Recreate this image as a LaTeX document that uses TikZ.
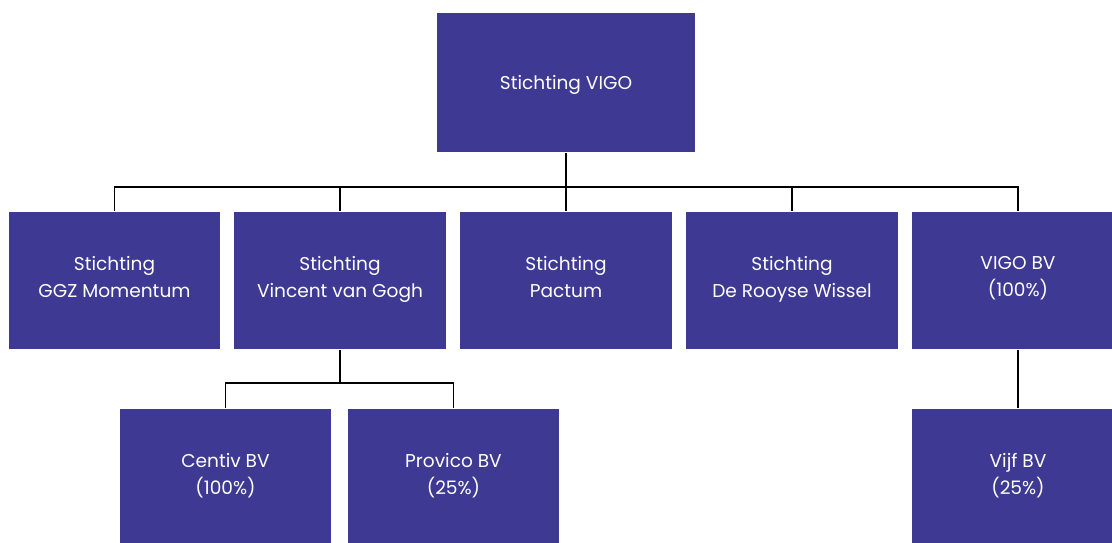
\documentclass[tikz,border=0pt]{standalone}
\usepackage{fontspec}
\setmainfont{Poppins}
\definecolor{vigoblue}{RGB}{62,57,146}

\begin{document}
\begin{tikzpicture}[x=0.025cm,y=-0.025cm,line width=1.4pt]
  \tikzstyle{every node}=[rectangle,fill=vigoblue,text=white,align=center,inner sep=0pt,
    font=\fontsize{13.2}{19.2}\selectfont,execute at begin node=\rule{0pt}{16.3pt},execute at end node=\strut]
  \tikzstyle{unit}=[minimum width=5.275cm,minimum height=3.425cm]
  \useasboundingbox (0,0) rectangle (1112,542);
  \clip (0,0) rectangle (1112,542);
  \node[minimum width=6.45cm,minimum height=3.475cm] (vigo) at (566,82.5) {Stichting VIGO};
  \node[unit] (ggz) at (114.5,280.5) {Stichting\\GGZ Momentum};
  \node[unit] (vvg) at (340,280.5) {Stichting\\Vincent van Gogh};
  \node[unit] (pactum) at (566,280.5) {Stichting\\Pactum};
  \node[unit] (rooyse) at (792,280.5) {Stichting\\De Rooyse Wissel};
  \node[unit] (vigobv) at (1018,280.5) {VIGO BV\\(100\%)};
  \node[unit] (centiv) at (225.5,477.5) {Centiv BV\\(100\%)};
  \node[unit] (provico) at (453.5,477.5) {Provico BV\\(25\%)};
  \node[unit] (vijf) at (1018,477.5) {Vijf BV\\(25\%)};
  % connectors
  \foreach \kid in {ggz,vvg,pactum,rooyse,vigobv}
    \draw (vigo.south) -- ++(0,34) -| (\kid.north);
  \foreach \kid in {centiv,provico}
    \draw (vvg.south) -- ++(0,33) -| (\kid.north);
  \draw (vigobv) -- (vijf);
\end{tikzpicture}
\end{document}
